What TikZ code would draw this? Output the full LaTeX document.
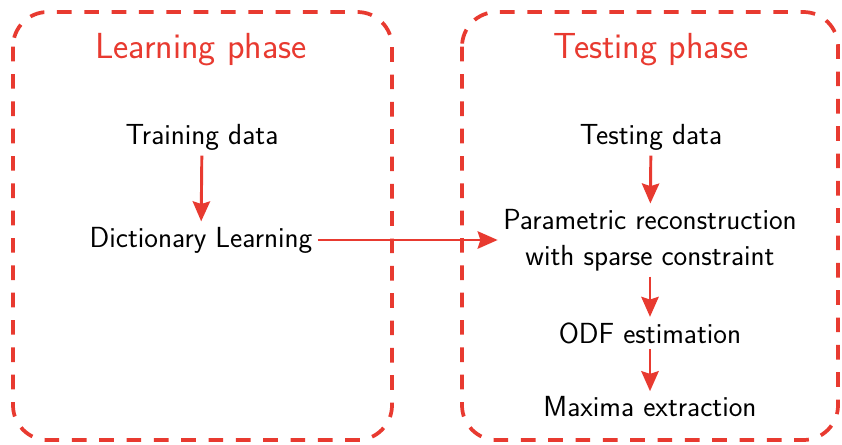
\documentclass[tikz,border=0pt]{standalone}
\usetikzlibrary{arrows.meta}
\definecolor{phasered}{RGB}{232,58,48}
\tikzset{
  phasebox/.style={draw=phasered,line width=2.8pt,dash pattern=on 11pt off 9.5pt,rounded corners=26pt},
  phasetitle/.style={text=phasered,font=\sffamily\fontsize{27.2}{32}\selectfont},
  stage/.style={font=\sffamily\fontsize{21.8}{27}\selectfont,align=center,inner sep=4pt},
  flow/.style={draw=phasered,line width=2.2pt,-{Stealth[length=15pt,width=13pt,inset=2pt]}}
}
\begin{document}
\begin{tikzpicture}[x=0.75pt,y=0.75pt,yscale=-1,xscale=1]
\useasboundingbox (0,0) rectangle (842,444);

%Learning phase box
\draw[phasebox] (13,12) rectangle (392,440);
%Testing phase box
\draw[phasebox] (462,12) rectangle (838,440);

% titles
\node[phasetitle] (learn) at (201,50) {Learning phase};
\node[phasetitle] (test) at (651,50) {Testing phase};

% stages
\node[stage] (train) at (202,137) {Training data};
\node[stage] (dict) at (201,240) {Dictionary Learning};
\node[stage] (testdata) at (651,137) {Testing data};
\node[stage] (recon) at (650,240) {Parametric reconstruction\\with sparse constraint};
\node[stage] (odf) at (650,333) {ODF estimation};
\node[stage] (maxima) at (650,407) {Maxima extraction};

% arrows
\draw[flow] (train) -- (dict);
\draw[flow] (dict) -- (recon.west |- dict);
\draw[flow] (testdata) -- (recon);
\draw[flow] (recon) -- (odf);
\draw[flow] (odf) -- (maxima);

\end{tikzpicture}
\end{document}
